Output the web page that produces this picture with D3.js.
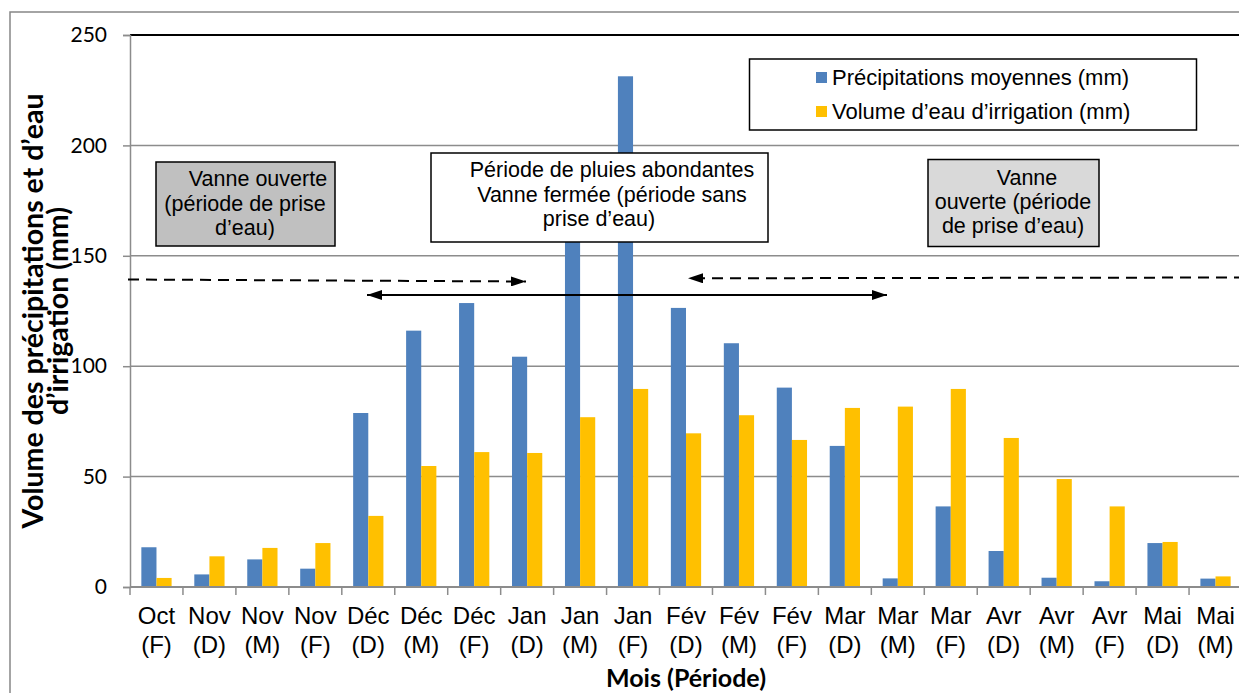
<!DOCTYPE html>
<html lang="fr">
<head>
<meta charset="utf-8">
<script src="https://cdn.jsdelivr.net/npm/d3@7"></script>
<style>
  html, body { margin: 0; padding: 0; background: #fff; }
  svg { display: block; }
</style>
</head>
<body>
<svg id="chart" width="1239" height="693"></svg>
<script>
// Mois et période (D = début, M = milieu, F = fin)
const months  = ["Oct","Nov","Nov","Nov","Déc","Déc","Déc","Jan","Jan","Jan","Fév","Fév","Fév","Mar","Mar","Mar","Avr","Avr","Avr","Mai","Mai"];
const periods = ["F","D","M","F","D","M","F","D","M","F","D","M","F","D","M","F","D","M","F","D","M"];

// Précipitations moyennes (mm)
const precipitation = [18.0, 5.7, 12.5, 8.3, 78.8, 116.1, 128.6, 104.3, 175, 231.3, 126.4, 110.4, 90.3, 63.9, 3.9, 36.5, 16.3, 4.2, 2.6, 19.9, 3.8];
// Volume d'eau d'irrigation (mm)
const irrigation = [4.1, 13.9, 17.7, 19.9, 32.2, 54.8, 61.1, 60.7, 76.9, 89.7, 69.6, 77.8, 66.6, 81.1, 81.7, 89.7, 67.5, 48.9, 36.5, 20.4, 4.8];

const seriesNames = ["Précipitations moyennes (mm)", "Volume d\u2019eau d\u2019irrigation (mm)"];
const yTicks = [0, 50, 100, 150, 200, 250];

const COLORS = ["#4F81BD", "#FFC000"];
const ARIAL = "'Liberation Sans', Arial, sans-serif";
const CALI = "Lato, 'Open Sans', sans-serif";

const svg = d3.select("#chart");
const plot = { left: 130, right: 1242, top: 35, bottom: 587 };

const x = d3.scaleBand().domain(d3.range(months.length)).range([plot.left, plot.right]).paddingInner(0).paddingOuter(0);
const xs = d3.scaleBand().domain([0, 1]).range([0, x.bandwidth()]).paddingInner(0).paddingOuter(0.75);
const y = d3.scaleLinear().domain([0, 250]).range([plot.bottom, plot.top]);

// chart frame
svg.append("rect").attr("x", 10).attr("y", 12).attr("width", 1400).attr("height", 900)
  .attr("fill", "none").attr("stroke", "#878787").attr("stroke-width", 1.5);

// horizontal gridlines
svg.append("g").selectAll("line").data(yTicks.filter(v => v > 0 && v < 250)).join("line")
  .attr("x1", plot.left).attr("x2", plot.right)
  .attr("y1", d => y(d)).attr("y2", d => y(d))
  .attr("stroke", "#8c8c8c").attr("stroke-width", 1.5);

// top line
svg.append("line").attr("x1", plot.left).attr("x2", plot.right)
  .attr("y1", y(250)).attr("y2", y(250)).attr("stroke", "#000").attr("stroke-width", 2);

// bars
const bars = svg.append("g");
[precipitation, irrigation].forEach((vals, s) => {
  bars.append("g").selectAll("rect").data(vals).join("rect")
    .attr("x", (d, i) => x(i) + xs(s))
    .attr("width", xs.bandwidth())
    .attr("y", d => y(d))
    .attr("height", d => y(0) - y(d))
    .attr("fill", COLORS[s]);
});

// y axis
const yAxis = svg.append("g").attr("transform", `translate(${plot.left},0)`)
  .call(d3.axisLeft(y).tickValues(yTicks).tickSize(7).tickPadding(16).tickFormat(d3.format("d")));
yAxis.select(".domain").attr("stroke", "#8c8c8c").attr("stroke-width", 1.5);
yAxis.selectAll(".tick line").attr("stroke", "#8c8c8c").attr("stroke-width", 1.5);
yAxis.selectAll(".tick text").attr("font-family", CALI).attr("font-size", 21).attr("fill", "#000");

// x axis line and boundary ticks
svg.append("line").attr("x1", plot.left).attr("x2", plot.right)
  .attr("y1", y(0)).attr("y2", y(0)).attr("stroke", "#8c8c8c").attr("stroke-width", 2);
svg.append("g").selectAll("line").data(d3.range(months.length + 1)).join("line")
  .attr("x1", i => plot.left + i * x.step()).attr("x2", i => plot.left + i * x.step())
  .attr("y1", y(0)).attr("y2", y(0) + 8)
  .attr("stroke", "#8c8c8c").attr("stroke-width", 1.5);

// category labels
const lab = svg.append("g").attr("font-family", ARIAL).attr("font-size", 24).attr("text-anchor", "middle").attr("fill", "#000");
lab.selectAll("text").data(months).join("text")
  .each(function(d, i) {
    const t = d3.select(this);
    const cx = x(i) + x.bandwidth() / 2;
    t.append("tspan").attr("x", cx).attr("y", 624).text(d);
    t.append("tspan").attr("x", cx).attr("y", 653).text(`(${periods[i]})`);
  });

// axis titles
svg.append("text").attr("x", (plot.left + plot.right) / 2).attr("y", 687)
  .attr("text-anchor", "middle").attr("font-family", CALI).attr("font-weight", 700).attr("font-size", 25)
  .text("Mois (Période)");

const yt = svg.append("g").attr("transform", "rotate(-90)")
  .attr("font-family", CALI).attr("font-weight", 700).attr("font-size", 28.5).attr("text-anchor", "middle");
yt.append("text").attr("x", -311).attr("y", 43).text("Volume des précipitations et d\u2019eau");
yt.append("text").attr("x", -311).attr("y", 68).text("d\u2019irrigation (mm)");

// annotation boxes
const boxes = [
  { x0: 156, y0: 162, x1: 335, y1: 246, fill: "#C0C0C0",
    lines: [["Vanne ouverte", 258, 186], ["(période de prise", 245, 210.5], ["d\u2019eau)", 245, 235]] },
  { x0: 431, y0: 153, x1: 768, y1: 242, fill: "#FFFFFF",
    lines: [["Période de pluies abondantes", 612, 177], ["Vanne fermée (période sans", 612, 201.5], ["prise d\u2019eau)", 599, 226]] },
  { x0: 928, y0: 159.5, x1: 1099, y1: 246.5, fill: "#D9D9D9",
    lines: [["Vanne", 1027, 185], ["ouverte (période", 1013, 209.3], ["de prise d\u2019eau)", 1013, 233.3]] }
];
boxes.forEach(b => {
  const g = svg.append("g");
  g.append("rect").attr("x", b.x0).attr("y", b.y0).attr("width", b.x1 - b.x0).attr("height", b.y1 - b.y0)
    .attr("fill", b.fill).attr("stroke", "#000").attr("stroke-width", 1.5);
  g.selectAll("text").data(b.lines).join("text")
    .attr("x", d => d[1]).attr("y", d => d[2]).attr("text-anchor", "middle")
    .attr("font-family", ARIAL).attr("font-size", 21.5).attr("fill", "#000")
    .text(d => d[0]);
});

// arrows
const defs = svg.append("defs");
defs.append("marker").attr("id", "head").attr("viewBox", "0 0 15 10").attr("refX", 15).attr("refY", 5)
  .attr("markerWidth", 15).attr("markerHeight", 10).attr("markerUnits", "userSpaceOnUse").attr("orient", "auto-start-reverse")
  .append("path").attr("d", "M0,0 L15,5 L0,10 Z").attr("fill", "#000");

svg.append("line").attr("x1", 128).attr("y1", 279.5).attr("x2", 526).attr("y2", 281.5)
  .attr("stroke", "#000").attr("stroke-width", 2).attr("stroke-dasharray", "11 7").attr("marker-end", "url(#head)");
svg.append("line").attr("x1", 1245).attr("y1", 277.5).attr("x2", 688).attr("y2", 278.3)
  .attr("stroke", "#000").attr("stroke-width", 2).attr("stroke-dasharray", "11 7").attr("marker-end", "url(#head)");
svg.append("line").attr("x1", 367).attr("y1", 295).attr("x2", 887).attr("y2", 295)
  .attr("stroke", "#000").attr("stroke-width", 2)
  .attr("marker-start", "url(#head)").attr("marker-end", "url(#head)");

// legend
const leg = svg.append("g");
leg.append("rect").attr("x", 749.5).attr("y", 59).attr("width", 447).attr("height", 71)
  .attr("fill", "#fff").attr("stroke", "#000").attr("stroke-width", 1.5);
seriesNames.forEach((name, s) => {
  leg.append("rect").attr("x", 816).attr("y", 72 + s * 34).attr("width", 11).attr("height", 11).attr("fill", COLORS[s]);
  leg.append("text").attr("x", 832).attr("y", 85 + s * 34).attr("font-family", ARIAL).attr("font-size", 22)
    .attr("fill", "#000").text(name);
});
</script>
</body>
</html>
